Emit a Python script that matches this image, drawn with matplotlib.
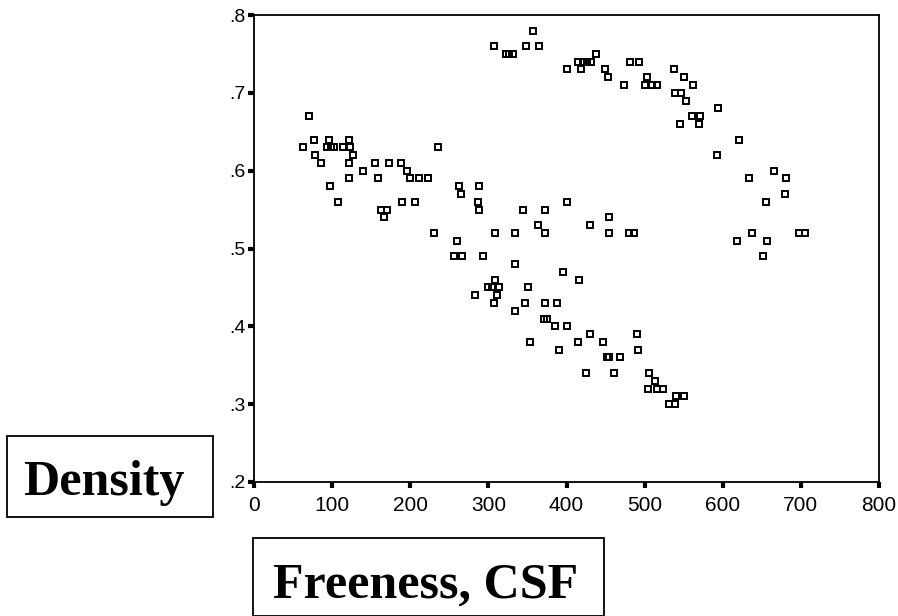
import matplotlib
matplotlib.use("Agg")
import matplotlib.pyplot as plt
from matplotlib.patches import Rectangle

# lower / middle band (freeness, density)
low_x = [63, 71, 77, 96, 93, 98, 103, 114, 122, 123, 78, 86, 127, 121, 139, 155, 173, 188,
         196, 200, 211, 223, 121, 159, 235, 97, 108, 163, 170, 166, 190, 206, 231, 260, 256,
         266, 262, 265, 288, 287, 288, 293, 283, 299, 308, 309, 305, 313, 311, 307, 334, 334,
         334, 344, 347, 351, 353, 363, 373, 373, 372, 371, 375, 385, 388, 391, 396, 400, 400,
         416, 415, 425, 430, 430, 447, 454, 454, 452, 455, 468, 461, 480, 487, 490, 492, 506,
         513, 504, 516, 524, 531, 539, 540, 550]
low_y = [.63, .67, .64, .64, .63, .63, .63, .63, .64, .63, .62, .61, .62, .61, .60, .61, .61, .61,
         .60, .59, .59, .59, .59, .59, .63, .58, .56, .55, .55, .54, .56, .56, .52, .51, .49,
         .49, .58, .57, .58, .56, .55, .49, .44, .45, .52, .46, .45, .45, .44, .43, .52, .48,
         .42, .55, .43, .45, .38, .53, .55, .52, .43, .41, .41, .40, .43, .37, .47, .56, .40,
         .46, .38, .34, .53, .39, .38, .54, .52, .36, .36, .36, .34, .52, .52, .39, .37, .34,
         .33, .32, .32, .32, .30, .30, .31, .31]

# upper band
up_x = [307, 323, 327, 331, 348, 357, 365, 401, 418, 415, 421, 426, 431, 438, 449, 453, 474,
        481, 493, 503, 501, 509, 516, 537, 539, 546, 545, 551, 553, 560, 562, 569, 571, 594,
        592, 621, 634, 666, 681, 680, 655, 638, 618, 657, 651, 697, 705]
up_y = [.76, .75, .75, .75, .76, .78, .76, .73, .73, .74, .74, .74, .74, .75, .73, .72, .71,
        .74, .74, .72, .71, .71, .71, .73, .70, .70, .66, .72, .69, .67, .71, .66, .67, .68,
        .62, .64, .59, .60, .59, .57, .56, .52, .51, .51, .49, .52, .52]

x_ticks = [0, 100, 200, 300, 400, 500, 600, 700, 800]
y_ticks = [.2, .3, .4, .5, .6, .7, .8]
y_labels = ['.2', '.3', '.4', '.5', '.6', '.7', '.8']

tick_font = ['Liberation Sans', 'DejaVu Sans']
label_font = ['Liberation Serif', 'DejaVu Serif']

fig = plt.figure(figsize=(8.98, 6.16), dpi=100)
ax = fig.add_axes([254 / 898, 1 - 482 / 616, 625 / 898, 467 / 616])

ax.plot(low_x + up_x, low_y + up_y, linestyle='none', marker='s', markersize=4.6,
        markerfacecolor='none', markeredgecolor='black', markeredgewidth=1.4)

ax.set_xlim(0, 800)
ax.set_ylim(.2, .8)
ax.set_xticks(x_ticks)
ax.set_xticklabels([str(t) for t in x_ticks], family=tick_font, fontsize=15)
ax.set_yticks(y_ticks)
ax.set_yticklabels(y_labels, family=tick_font, fontsize=14)
ax.tick_params(direction='out', length=4, width=3, color='black')
ax.tick_params(axis='x', pad=6)
ax.tick_params(axis='y', pad=2)

for side in ax.spines.values():
    side.set_linewidth(1.3)
    side.set_color('black')

# boxed axis titles
fig.patches.append(Rectangle((7 / 898, 1 - 517 / 616), 206 / 898, 81 / 616,
                             transform=fig.transFigure, fill=False, lw=1.3, ec='black'))
fig.text(104 / 898, 1 - 495 / 616, 'Density', ha='center', va='baseline',
         family=label_font, fontweight='bold', fontsize=36)

fig.patches.append(Rectangle((253 / 898, 1 - 616 / 616), 351 / 898, 78 / 616,
                             transform=fig.transFigure, fill=False, lw=1.3, ec='black'))
fig.text(426 / 898, 1 - 598 / 616, 'Freeness, CSF', ha='center', va='baseline',
         family=label_font, fontweight='bold', fontsize=36)

fig.savefig('out.png', dpi=100)
